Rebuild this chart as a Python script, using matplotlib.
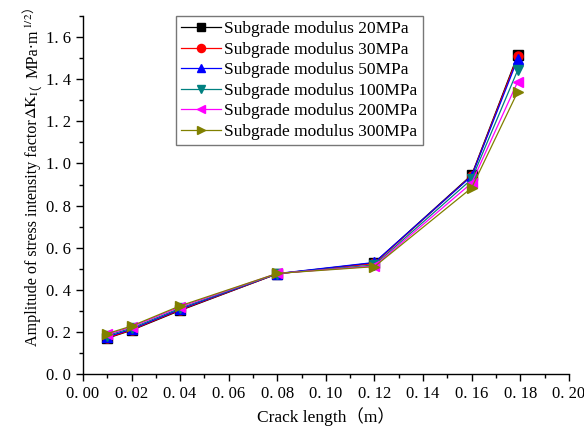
import matplotlib
matplotlib.use("Agg")
import matplotlib.pyplot as plt
from matplotlib.ticker import MultipleLocator, FuncFormatter

plt.rcParams['font.family'] = ['Liberation Serif', 'Noto Sans CJK SC', 'DejaVu Sans']
plt.rcParams['mathtext.fontset'] = 'stix'

crack_length = [0.01, 0.02, 0.04, 0.08, 0.12, 0.16, 0.179]
labels = ["Subgrade modulus 20MPa", "Subgrade modulus 30MPa", "Subgrade modulus 50MPa",
          "Subgrade modulus 100MPa", "Subgrade modulus 200MPa", "Subgrade modulus 300MPa"]
k_20 = [0.170, 0.208, 0.302, 0.476, 0.528, 0.945, 1.515]
k_30 = [0.172, 0.210, 0.305, 0.476, 0.525, 0.942, 1.508]
k_50 = [0.177, 0.213, 0.308, 0.477, 0.530, 0.940, 1.497]
k_100 = [0.183, 0.218, 0.313, 0.477, 0.518, 0.925, 1.444]
k_200 = [0.188, 0.224, 0.319, 0.478, 0.513, 0.907, 1.389]
k_300 = [0.192, 0.228, 0.324, 0.478, 0.510, 0.884, 1.341]
series = [k_20, k_30, k_50, k_100, k_200, k_300]
colors = ['black', 'red', 'blue', '#008080', 'magenta', '#808000']
markers = ['s', 'o', '^', 'v', '<', '>']

# (text, font family) pieces of the y-axis label
ylabel_parts = [("Amplitude of stress intensity factor", 'Liberation Serif'),
                (r"$\Delta\mathrm{K}_{\mathrm{I}}$", 'Liberation Serif'),
                ("（", 'Noto Sans CJK SC'),
                ("MPa·m", 'Liberation Serif'),
                (r"$^{1/2}$", 'Liberation Serif'),
                ("）", 'Noto Sans CJK SC')]

W, H = 584, 428
fig = plt.figure(figsize=(W / 100, H / 100), dpi=100)
ax = fig.add_axes([0.142, 0.126, 0.832, 0.8366])

for y, c, m, lab in zip(series, colors, markers, labels):
    ax.plot(crack_length, y, color=c, marker=m, markersize=6.5, linewidth=0.9, label=lab)

ax.set_xlim(0, 0.20)
ax.set_ylim(0, 1.7)
ax.xaxis.set_major_locator(MultipleLocator(0.02))
ax.xaxis.set_minor_locator(MultipleLocator(0.01))
ax.yaxis.set_major_locator(MultipleLocator(0.2))
ax.yaxis.set_minor_locator(MultipleLocator(0.1))
ax.xaxis.set_major_formatter(FuncFormatter(lambda v, p: f"{v:.2f}".replace('.', '. ')))
ax.yaxis.set_major_formatter(FuncFormatter(lambda v, p: f"{v:.1f}".replace('.', '. ')))

for s in ['top', 'right']:
    ax.spines[s].set_visible(False)
for s in ['left', 'bottom']:
    ax.spines[s].set_linewidth(1.0)
ax.tick_params(which='major', direction='out', length=5, width=1, labelsize=12)
ax.tick_params(which='minor', direction='out', length=3, width=1)

ax.set_xlabel("Crack length（m）", fontsize=12.5, labelpad=4)

# composite y label (full-width brackets need a CJK font, mathtext has no fallback)
renderer = fig.canvas.get_renderer()
x_base = 37.0
y_pos = 346.0  # pixels from top
for part, fam in ylabel_parts:
    cjk = fam.startswith('Noto')
    size = 9.0 if cjk else 11.6
    x = x_base - (5.0 if cjk else 0.0)
    t = fig.text(x / W, 1 - y_pos / H, part, rotation=90, rotation_mode='anchor',
                 ha='left', va='baseline', fontsize=size, family=fam)
    bb = t.get_window_extent(renderer)
    y_pos -= bb.height

leg = ax.legend(loc='upper left', bbox_to_anchor=(0.191, 1.0), borderaxespad=0,
                fontsize=12.5, frameon=True, fancybox=False, edgecolor='#555555',
                handlelength=2.3, handletextpad=0.2, labelspacing=0.25, borderpad=0.3,
                markerscale=0.9)
leg.get_frame().set_linewidth(1.0)

fig.savefig("out.png", dpi=100)
